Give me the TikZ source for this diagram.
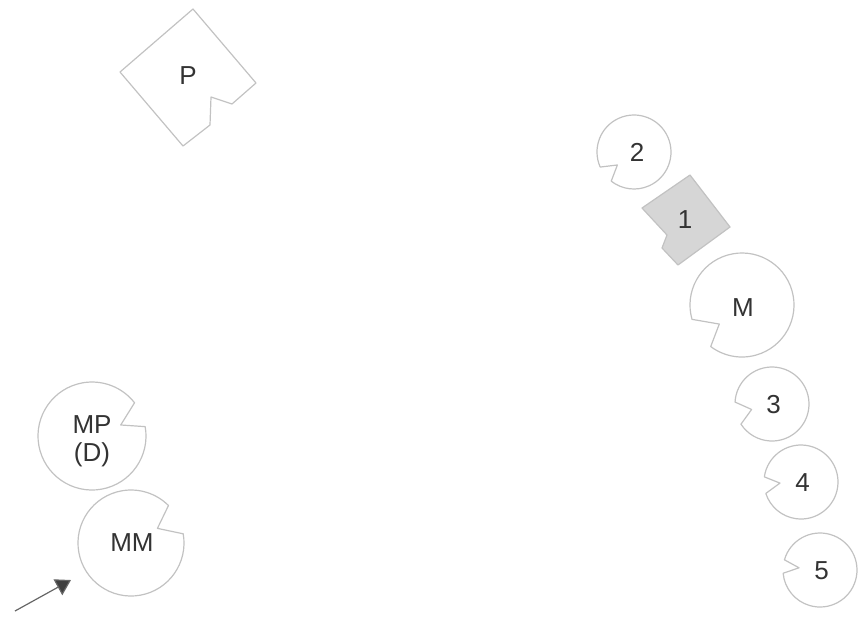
\documentclass[tikz,border=0pt]{standalone}
\usepackage{fontspec}
\setmainfont{Liberation Sans}
\usetikzlibrary{arrows.meta}

\definecolor{wallgray}{gray}{0.76}
\definecolor{roomfill}{gray}{0.84}
\definecolor{labelgray}{gray}{0.2}

\tikzset{
  room/.style={draw=wallgray, line width=0.6pt, line join=round},
  lbl/.style={text=labelgray, font=\fontsize{13}{14}\selectfont, align=center, inner sep=0pt}
}

% notched circle: centre, radius, notch from, notch to, notch tip angle
\newcommand{\notchcircle}[5]{%
  \draw[room] (#1) ++(#4:#2) arc (#4:#3+360:#2) -- ([shift={(#1)}]#5:{0.57*#2}) -- cycle;}

\begin{document}
\begin{tikzpicture}[x=0.5pt, y=-0.5pt]
  \useasboundingbox (0,0) rectangle (858,629);

  % square P, top left
  \draw[room] (193,9) -- (256,83) -- (232,104) -- (211,97) -- (210,125) -- (183,146) -- (120,72) -- cycle;
  \node[lbl] (labP) at (188,76) {P};

  % shaded square 1
  \draw[room, fill=roomfill] (690,175) -- (730,227) -- (678,265) -- (662,248) -- (667,235) -- (642,208) -- cycle;
  \node[lbl] (lab1) at (685,220) {1};

  %	circles on the right
  \notchcircle{634,152}{37}{128}{156}{142}
  \node[lbl] (lab2) at (637,152) {2};

  \notchcircle{742,305}{52}{127}{164}{140}
  \node[lbl] (labM) at (743,308) {M};

  \foreach \cx/\cy/\na/\nb/\nt/\name in {772/404/147/183/165/3, 801/482/162/188/177/4, 820/570/175/196/186/5} {
    \notchcircle{\cx,\cy}{37}{\na}{\nb}{\nt}
    \node[lbl] (lab\name) at (\cx+1.5,\cy+0.5) {\name};
  }

  %	circles on the left
  \notchcircle{92,436}{54}{322}{350}{339}
  \node[lbl] (labMP) at (92,441) {MP\\(D)};

  \notchcircle{131,543}{53}{315}{350}{331}
  \node[lbl] (labMM) at (132,543) {MM};

  % entrance arrow
  \coordinate (entryfrom) at (15,611);
  \coordinate (entryto) at (71,580);
  \draw[black!60, line width=0.6pt, -{Triangle[length=7.5pt, width=9pt, fill=black!75]}] (entryfrom) -- (entryto);
\end{tikzpicture}
\end{document}
